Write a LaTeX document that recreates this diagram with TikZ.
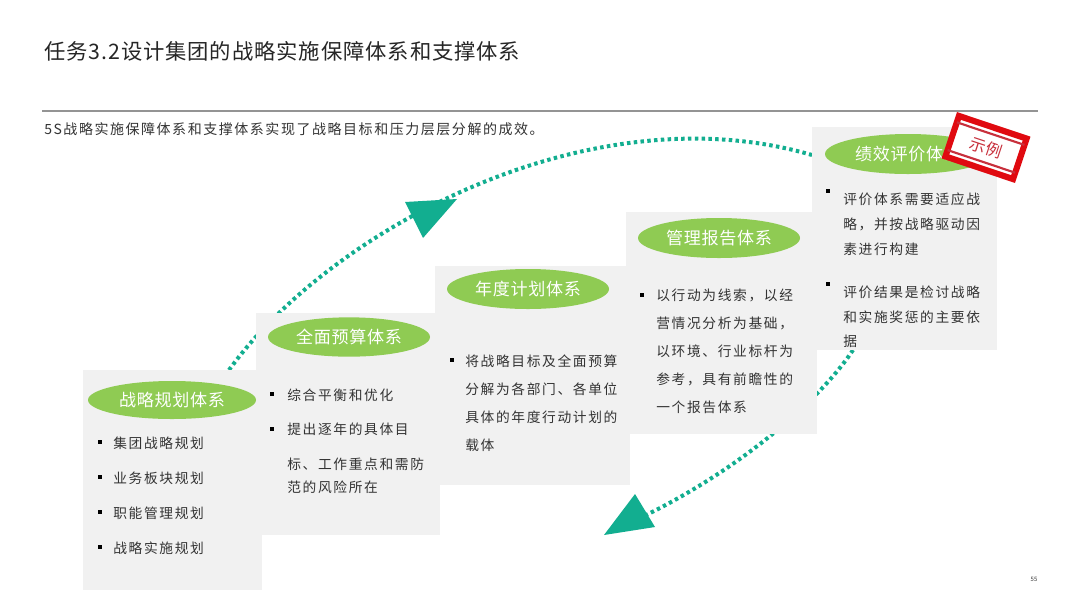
\documentclass[tikz,border=0pt]{standalone}
\usepackage{fontspec}
\setmainfont{Noto Sans CJK SC}
\newfontfamily\bodyfont[LetterSpace=12]{Noto Sans CJK SC}
\newfontfamily\labelfont[LetterSpace=4]{Noto Sans CJK SC}
\newfontfamily\titlefont[LetterSpace=4.2]{Noto Sans CJK SC}
\newfontfamily\subfont[LetterSpace=11]{Noto Sans CJK SC}
\usetikzlibrary{shapes.geometric,calc}
\definecolor{panel}{HTML}{F1F1F1}
\definecolor{leaf}{HTML}{8FCB53}
\definecolor{teal1}{HTML}{12AE90}
\definecolor{ink}{HTML}{333333}
\definecolor{stampred}{HTML}{E00A10}
\definecolor{stampin}{HTML}{C8303C}
\tikzset{
  x=0.75pt,y=-0.75pt,
  panelbox/.style={rectangle,fill=panel,anchor=north west,inner sep=0pt,outer sep=0pt},
  oval/.style={ellipse,fill=leaf,inner sep=0pt,text=white,font=\labelfont\fontsize{12.8}{14}\selectfont},
  body/.style={anchor=west,inner sep=0pt,text=ink,align=left,font=\bodyfont\fontsize{10.3}{#1}\selectfont},
  body/.default=14,
  bul/.style={rectangle,fill=black,minimum size=3pt,inner sep=0pt},
  flow/.style={teal1,line width=3pt,dash pattern=on 2.6pt off 2.5pt},
  head/.style={fill=teal1,draw=none},
}
\begin{document}
\begin{tikzpicture}
\useasboundingbox (0,0) rectangle (1080,608);
\fill[white] (0,0) rectangle (1080,608);
\node[anchor=west,inner sep=0pt,text=black!85,font=\titlefont\fontsize{16}{20}\selectfont] (title) at (44,51) {任务3.2设计集团的战略实施保障体系和支撑体系};
\coordinate (ruleL) at (42,111);
\coordinate (ruleR) at (1038,111);
\draw[black!42,line width=1.1pt] (ruleL) -- (ruleR);
\node[anchor=west,inner sep=0pt,text=ink,font=\subfont\fontsize{10.5}{14}\selectfont] (sub) at (44,129) {5S战略实施保障体系和支撑体系实现了战略目标和压力层层分解的成效。};

\coordinate (upS) at (229,370);
\coordinate (upE) at (812,155);
\coordinate (downS) at (853,350);
\coordinate (downE) at (640,518);
\draw[flow] (upS) .. controls (330,230) and (590,90) .. (upE);
\draw[flow] (downS) .. controls (820,400) and (740,470) .. (downE);
\fill[head] (405,202) -- (457,199) -- (423,238) -- cycle;
\fill[head] (635,494) -- (655,527) -- (604,535) -- cycle;

\node[panelbox,minimum width=134.25pt,minimum height=165pt] (box1) at (83,370) {};
\node[panelbox,minimum width=138pt,minimum height=166.5pt] (box2) at (256,313) {};
\node[panelbox,minimum width=146.25pt,minimum height=164.25pt] (box3) at (435,266) {};
\node[panelbox,minimum width=143.25pt,minimum height=166.5pt] (box4) at (626,212) {};
\node[panelbox,minimum width=138.75pt,minimum height=167.25pt] (box5) at (812,127) {};

\node[oval,minimum width=126pt,minimum height=28.5pt] (o1) at (172,400) {战略规划体系};
\node[oval,minimum width=121.5pt,minimum height=29.5pt] (o2) at (349,337) {全面预算体系};
\node[oval,minimum width=121.5pt,minimum height=30pt] (o3) at (528,289) {年度计划体系};
\node[oval,minimum width=121.5pt,minimum height=30pt] (o4) at (719,238) {管理报告体系};
\node[oval,minimum width=124.5pt,minimum height=30pt] (o5) at (908,154) {绩效评价体系};

\node[bul] (b11) at (100,442) {};
\node[bul] (b12) at (100,477) {};
\node[bul] (b13) at (100,512) {};
\node[bul] (b14) at (100,547) {};
\node[body] (t11) at (113,443) {集团战略规划};
\node[body] (t12) at (113,478) {业务板块规划};
\node[body] (t13) at (113,513) {职能管理规划};
\node[body] (t14) at (113,548) {战略实施规划};

\node[bul] (b21) at (272,394) {};
\node[bul] (b22) at (272,429) {};
\node[body] (t21) at (287,395) {综合平衡和优化};
\node[body] (t22) at (287,429) {提出逐年的具体目};
\node[body=17.25] (t23) at (287,476) {标、工作重点和需防\\范的风险所在};

\node[bul] (b31) at (452,360) {};
\node[body=21] (t31) at (465,403) {将战略目标及全面预算\\分解为各部门、各单位\\具体的年度行动计划的\\载体};

\node[bul] (b41) at (642,295) {};
\node[body=21] (t41) at (656,351) {以行动为线索，以经\\营情况分析为基础，\\以环境、行业标杆为\\参考，具有前瞻性的\\一个报告体系};

\node[bul] (b51) at (828,191) {};
\node[bul] (b52) at (828,284) {};
\node[body=18.75] (t51) at (843,224) {评价体系需要适应战\\略，并按战略驱动因\\素进行构建};
\node[body=18.5] (t52) at (843,317) {评价结果是检讨战略\\和实施奖惩的主要依\\据};

\node[rectangle,draw=stampred,line width=4.6pt,fill=white,rotate=-18.5,minimum width=53.5pt,minimum height=32pt,inner sep=0pt,text=stampin,font=\fontsize{12.2}{13}\selectfont] (stamp) at (986,147.5) {示例};
\draw[stampin,line width=1.6pt] ($(stamp.north west)!0.05!(stamp.north east)!0.2!(stamp.south west)$) -- ($(stamp.north east)!0.05!(stamp.north west)!0.2!(stamp.south east)$);
\draw[stampin,line width=1.6pt] ($(stamp.south west)!0.05!(stamp.south east)!0.2!(stamp.north west)$) -- ($(stamp.south east)!0.05!(stamp.south west)!0.2!(stamp.north east)$);

\node[inner sep=0pt,text=ink,font=\fontsize{4.5}{5}\selectfont] (page) at (1034,579) {55};
\end{tikzpicture}
\end{document}
